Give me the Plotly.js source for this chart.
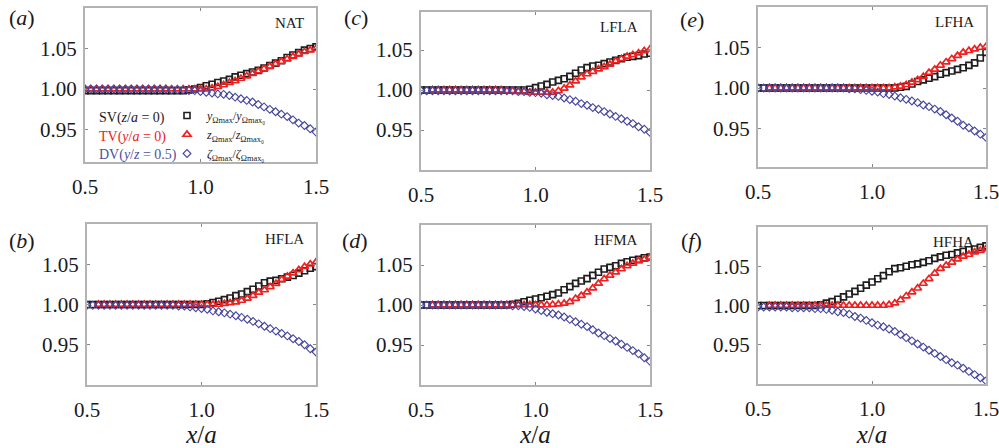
<!DOCTYPE html>
<html>
<head>
<meta charset="utf-8">
<script src="https://cdn.plot.ly/plotly-3.0.1.min.js"></script>
<style>html,body{margin:0;padding:0;background:#fff;}#chart{width:999px;height:448px;}</style>
</head>
<body>
<div id="chart"></div>
<script>
// x/a sampling positions
const xPos = [
  0.500,0.525,0.550,0.575,0.600,0.625,0.650,0.675,0.700,0.725,
  0.750,0.775,0.800,0.825,0.850,0.875,0.900,0.925,0.950,0.975,
  1.000,1.025,1.050,1.075,1.100,1.125,1.150,1.175,1.200,1.225,
  1.250,1.275,1.300,1.325,1.350,1.375,1.400,1.425,1.450,1.475,
  1.500];

// Panel labels and case names
const panelTags = ['a','c','e','b','d','f'];
const caseNames = ['NAT','LFLA','LFHA','HFLA','HFMA','HFHA'];

// (a) NAT
const natSV = [
  0.998,0.998,0.998,0.998,0.998,0.998,0.998,0.998,0.998,0.998,
  0.998,0.998,0.998,0.998,0.998,0.998,0.998,0.998,0.999,1.000,
  1.002,1.004,1.006,1.008,1.010,1.012,1.015,1.017,1.019,1.021,
  1.023,1.026,1.029,1.032,1.035,1.039,1.042,1.045,1.048,1.050,
  1.052];
const natTV = [
  1.000,1.000,1.000,1.000,1.000,1.000,1.000,1.000,1.000,1.000,
  1.000,1.000,1.000,1.000,1.000,1.000,1.000,1.000,1.000,1.000,
  1.000,1.000,1.001,1.003,1.005,1.008,1.010,1.013,1.016,1.019,
  1.022,1.025,1.028,1.031,1.034,1.037,1.040,1.043,1.046,1.048,
  1.050];
const natDV = [
  1.000,1.000,1.000,1.000,1.000,1.000,1.000,1.000,1.000,1.000,
  1.000,1.000,1.000,1.000,1.000,0.999,0.999,0.999,0.998,0.998,
  0.997,0.996,0.995,0.994,0.9935,0.992,0.990,0.988,0.986,0.984,
  0.981,0.978,0.975,0.972,0.969,0.966,0.962,0.958,0.955,0.951,
  0.947];

// (c) LFLA
const lflaSV = [
  1.000,1.000,1.000,1.000,1.000,1.000,1.000,1.000,1.000,1.000,
  1.000,1.000,1.000,1.000,1.000,1.000,1.000,1.000,1.000,1.001,
  1.003,1.005,1.007,1.010,1.012,1.014,1.017,1.021,1.025,1.028,
  1.030,1.031,1.033,1.035,1.037,1.039,1.041,1.042,1.043,1.045,
  1.046];
const lflaTV = [
  null,null,1.000,1.000,1.000,1.000,1.000,1.000,1.000,1.000,
  1.000,1.000,1.000,1.000,1.000,0.999,0.999,0.998,0.998,0.997,
  0.997,0.997,0.997,0.997,0.999,1.002,1.006,1.011,1.016,1.020,
  1.023,1.026,1.029,1.032,1.036,1.039,1.042,1.044,1.046,1.049,
  1.051];
const lflaDV = [
  0.999,0.999,0.999,0.999,0.999,0.999,0.999,0.999,0.999,0.999,
  0.999,0.999,0.999,0.999,0.999,0.999,0.999,0.998,0.998,0.997,
  0.9967,0.996,0.994,0.993,0.992,0.990,0.988,0.986,0.983,0.981,
  0.978,0.976,0.973,0.970,0.967,0.964,0.961,0.958,0.954,0.951,
  0.947];

// (e) LFHA
const lfhaSV = [
  1.000,1.000,1.000,1.000,1.000,1.000,1.000,1.000,1.000,1.000,
  1.000,1.000,1.000,1.000,1.000,1.000,1.000,1.000,1.000,1.000,
  1.000,1.000,1.000,1.000,1.000,1.001,1.002,1.005,1.008,1.010,
  1.012,1.014,1.017,1.019,1.021,1.023,1.025,1.028,1.031,1.037,
  1.044];
const lfhaTV = [
  null,null,1.000,1.000,1.000,1.000,1.000,1.000,1.000,1.000,
  1.000,1.000,1.000,1.000,1.000,1.000,1.000,1.000,1.000,1.000,
  1.000,1.000,1.000,1.000,1.001,1.002,1.004,1.007,1.010,1.014,
  1.019,1.023,1.028,1.032,1.036,1.040,1.044,1.046,1.048,1.050,
  1.051];
const lfhaDV = [
  1.000,1.000,1.000,1.000,1.000,1.000,1.000,1.000,1.000,1.000,
  1.000,1.000,1.000,1.000,1.000,1.000,0.999,0.999,0.998,0.997,
  0.996,0.995,0.993,0.992,0.990,0.988,0.986,0.984,0.982,0.979,
  0.977,0.974,0.971,0.967,0.963,0.959,0.954,0.951,0.947,0.943,
  0.939];

// (b) HFLA
const hflaSV = [
  1.000,1.000,1.000,1.000,1.000,1.000,1.000,1.000,1.000,1.000,
  1.000,1.000,1.000,1.000,1.000,1.000,1.000,1.000,1.000,1.000,
  1.000,1.001,1.0025,1.004,1.006,1.008,1.011,1.013,1.016,1.019,
  1.023,1.027,1.029,1.030,1.032,1.034,1.036,1.039,1.042,1.045,
  1.047];
const hflaTV = [
  null,null,1.000,1.000,1.000,1.000,1.000,1.000,1.000,1.000,
  1.000,1.000,1.000,1.000,1.000,1.000,1.000,1.000,1.000,1.000,
  1.000,1.000,1.000,1.000,1.001,1.002,1.003,1.005,1.0075,1.011,
  1.015,1.018,1.022,1.026,1.031,1.035,1.039,1.043,1.047,1.050,
  1.0525];
const hflaDV = [
  0.999,0.999,0.999,0.999,0.999,0.999,0.999,0.999,0.999,0.999,
  0.999,0.999,0.999,0.999,0.999,0.999,0.998,0.998,0.997,0.996,
  0.995,0.994,0.992,0.991,0.9896,0.988,0.986,0.984,0.9817,0.979,
  0.976,0.973,0.970,0.967,0.964,0.961,0.9575,0.954,0.950,0.945,
  0.941];

// (d) HFMA
const hfmaSV = [
  1.000,1.000,1.000,1.000,1.000,1.000,1.000,1.000,1.000,1.000,
  1.000,1.000,1.000,1.000,1.000,1.000,1.001,1.002,1.004,1.006,
  1.0075,1.009,1.011,1.013,1.015,1.019,1.023,1.027,1.030,1.033,
  1.037,1.041,1.045,1.047,1.049,1.052,1.054,1.056,1.057,1.059,
  1.060];
const hfmaTV = [
  null,null,1.000,1.000,1.000,1.000,1.000,1.000,1.000,1.000,
  1.000,1.000,1.000,1.000,1.000,1.000,1.000,1.000,1.000,1.000,
  1.000,1.000,1.000,1.0005,1.001,1.002,1.004,1.008,1.0117,1.016,
  1.021,1.027,1.0325,1.037,1.041,1.045,1.049,1.052,1.055,1.057,
  1.0596];
const hfmaDV = [
  1.000,1.000,1.000,1.000,1.000,1.000,1.000,1.000,1.000,1.000,
  1.000,1.000,1.000,1.000,1.000,1.000,0.999,0.999,0.998,0.997,
  0.995,0.993,0.991,0.989,0.9875,0.985,0.982,0.979,0.976,0.973,
  0.969,0.965,0.9617,0.958,0.955,0.951,0.947,0.943,0.939,0.934,
  0.9296];

// (f) HFHA
const hfhaSV = [
  1.000,1.000,1.000,1.000,1.000,1.000,1.000,1.000,1.000,1.000,
  1.000,1.001,1.003,1.005,1.008,1.011,1.0146,1.018,1.022,1.026,
  1.030,1.034,1.038,1.043,1.047,1.048,1.050,1.052,1.053,1.055,
  1.057,1.060,1.062,1.064,1.065,1.067,1.069,1.071,1.072,1.074,
  1.076];
const hfhaTV = [
  null,null,1.000,1.000,1.000,1.000,1.000,1.000,1.000,1.000,
  1.000,1.000,1.000,1.000,1.000,1.000,1.000,1.000,1.000,1.000,
  1.000,1.000,1.000,1.001,1.003,1.007,1.012,1.017,1.022,1.028,
  1.034,1.041,1.047,1.051,1.055,1.059,1.0625,1.065,1.068,1.070,
  1.072];
const hfhaDV = [
  0.998,0.998,0.998,0.998,0.998,0.998,0.997,0.997,0.997,0.997,
  0.996,0.996,0.995,0.994,0.992,0.991,0.989,0.986,0.984,0.981,
  0.978,0.975,0.973,0.970,0.967,0.963,0.959,0.955,0.951,0.947,
  0.943,0.939,0.935,0.931,0.927,0.924,0.920,0.916,0.912,0.908,
  0.904];

// Tick labels
const xTickVals = [0.5, 1.0, 1.5];
const xTickText = ['0.5', '1.0', '1.5'];
const yTickVals = [0.95, 1.00, 1.05];
const yTickText = ['0.95', '1.00', '1.05'];

const svSets = [natSV, lflaSV, lfhaSV, hflaSV, hfmaSV, hfhaSV];
const tvSets = [natTV, lflaTV, lfhaTV, hflaTV, hfmaTV, hfhaTV];
const dvSets = [natDV, lflaDV, lfhaDV, hflaDV, hfmaDV, hfhaDV];

const legendNames = [
  '<i>y</i><sub>Ωmax</sub>/<i>y</i><sub>Ωmax₀</sub>',
  '<i>z</i><sub>Ωmax</sub>/<i>z</i><sub>Ωmax₀</sub>',
  '<i>ζ</i><sub>Ωmax</sub>/<i>ζ</i><sub>Ωmax₀</sub>'
];

// ---- layout geometry (pixels) ----
const W = 999, H = 448;
const boxes = [
  {x0: 85, x1: 316, y0: 8, y1: 162, yr: [0.91, 1.10]},
  {x0: 421, x1: 650, y0: 12, y1: 170, yr: [0.90, 1.0975]},
  {x0: 758, x1: 986, y0: 7, y1: 167, yr: [0.9025, 1.10]},
  {x0: 87, x1: 316, y0: 224, y1: 385, yr: [0.90, 1.10]},
  {x0: 421, x1: 650, y0: 225, y1: 385, yr: [0.90, 1.10]},
  {x0: 758, x1: 986, y0: 227, y1: 384, yr: [0.90, 1.10]}
];

const BLACK = '#1e1e1e', RED = '#ee2020', BLUE = '#4646a0';
const serif = 'Liberation Serif';

const traces = [];
const layout = {
  width: W, height: H,
  margin: {l: 0, r: 0, t: 0, b: 0},
  paper_bgcolor: '#ffffff',
  plot_bgcolor: '#ffffff',
  font: {family: serif, color: '#1a1a1a', size: 21},
  showlegend: true,
  legend: {
    x: 167 / W, y: 1 - 101 / H, xanchor: 'left', yanchor: 'top',
    bgcolor: 'rgba(0,0,0,0)', borderwidth: 0,
    font: {family: serif, size: 12, color: '#1a1a1a'},
    itemwidth: 30, tracegroupgap: 0
  },
  annotations: [],
  hovermode: false
};

boxes.forEach((b, i) => {
  const n = i === 0 ? '' : String(i + 1);
  const xa = 'x' + n, ya = 'y' + n;
  const first = i === 0;
  traces.push({
    x: xPos, y: svSets[i], xaxis: xa, yaxis: ya, type: 'scatter', mode: 'markers',
    name: legendNames[0], showlegend: first,
    marker: {symbol: 'square-open', size: 6, color: BLACK, line: {width: 1.6, color: BLACK}},
    cliponaxis: true
  });
  traces.push({
    x: xPos, y: tvSets[i], xaxis: xa, yaxis: ya, type: 'scatter', mode: 'markers',
    name: legendNames[1], showlegend: first,
    marker: {symbol: 'triangle-up-open', size: 7, color: RED, line: {width: 1.7, color: RED}},
    cliponaxis: true
  });
  traces.push({
    x: xPos, y: dvSets[i], xaxis: xa, yaxis: ya, type: 'scatter', mode: 'markers',
    name: legendNames[2], showlegend: first,
    marker: {symbol: 'diamond-open', size: 6, color: BLUE, line: {width: 1.1, color: BLUE}},
    cliponaxis: true
  });

  const common = {
    showline: true, linecolor: '#b3b3b3', linewidth: 2, mirror: 'ticks',
    ticks: 'inside', ticklen: 3, tickwidth: 1, tickcolor: '#888888',
    showgrid: false, zeroline: false, fixedrange: true,
    ticklabeloverflow: 'allow',
    tickfont: {family: serif, size: 21, color: '#1a1a1a'}
  };
  layout['xaxis' + n] = Object.assign({}, common, {
    domain: [b.x0 / W, b.x1 / W], range: [0.5, 1.5], anchor: ya,
    tickvals: xTickVals, ticktext: xTickText, ticklabelstandoff: 5
  });
  if (i >= 3) {
    layout['xaxis' + n].title = {
      text: '<i>x</i>/<i>a</i>', standoff: 0,
      font: {family: serif, size: 25, color: '#1a1a1a'}
    };
  }
  layout['yaxis' + n] = Object.assign({}, common, {
    domain: [1 - b.y1 / H, 1 - b.y0 / H], range: b.yr, anchor: xa,
    tickvals: yTickVals, ticktext: yTickText, ticklabelstandoff: 2
  });

  // panel letter
  const labelPos = [[22, 17], [356, 18], [692, 20], [22, 240], [355, 240], [691, 240]][i];
  layout.annotations.push({
    xref: 'paper', yref: 'paper', x: labelPos[0] / W, y: 1 - labelPos[1] / H,
    xanchor: 'center', yanchor: 'middle', showarrow: false,
    text: '(<i>' + panelTags[i] + '</i>)', font: {family: serif, size: 22, color: '#1a1a1a'}
  });
  // case name
  layout.annotations.push({
    xref: 'paper', yref: 'paper', x: (b.x1 - 10) / W, y: 1 - (b.y0 + 15) / H,
    xanchor: 'right', yanchor: 'middle', showarrow: false,
    text: caseNames[i], font: {family: serif, size: 15, color: '#1a1a1a'}
  });
});

// legend descriptors in panel (a)
const legendDesc = [
  ['SV(<i>z</i>/<i>a</i> = 0)', '#1a1a1a', 118],
  ['TV(<i>y</i>/<i>a</i> = 0)', '#ee2020', 137],
  ['DV(<i>y</i>/<i>z</i> = 0.5)', '#4f4f9c', 155]
];
legendDesc.forEach(d => {
  layout.annotations.push({
    xref: 'paper', yref: 'paper', x: 97 / W, y: 1 - d[2] / H,
    xanchor: 'left', yanchor: 'middle', showarrow: false,
    text: d[0], font: {family: serif, size: 14, color: d[1]}
  });
});

Plotly.newPlot('chart', traces, layout, {staticPlot: true, displayModeBar: false});
</script>
</body>
</html>
